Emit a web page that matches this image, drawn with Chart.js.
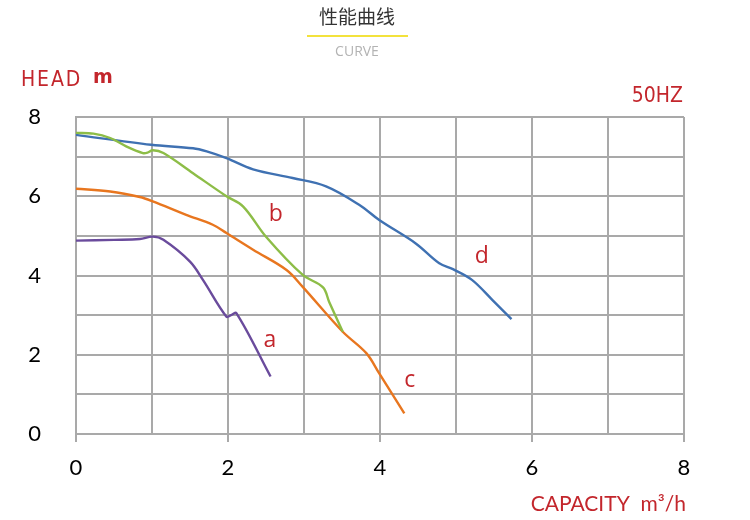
<!DOCTYPE html>
<html>
<head>
<meta charset="utf-8">
<script src="https://cdn.jsdelivr.net/npm/chart.js@4.4.1/dist/chart.umd.min.js"></script>
<style>
  html, body { margin: 0; padding: 0; background: #fff; }
  #wrap { width: 750px; height: 520px; position: relative; }
</style>
</head>
<body>
<div id="wrap"><canvas id="curve"></canvas></div>
<script>
// pump curves, capacity m3/h vs head m
var curveA_x = [0, 0.5, 0.84, 1.01, 1.15, 1.5, 1.67, 1.98, 2.04, 2.11, 2.56];
var curveA_y = [4.88, 4.9, 4.92, 4.98, 4.9, 4.35, 3.89, 2.96, 3.0, 3.05, 1.45];

var curveB_x = [0, 0.23, 0.45, 0.66, 0.88, 0.94, 1.01, 1.15, 1.54, 1.98, 2.2, 2.5, 2.98, 3.25, 3.33, 3.51];
var curveB_y = [7.6, 7.58, 7.47, 7.26, 7.09, 7.1, 7.16, 7.09, 6.58, 6.0, 5.74, 4.98, 4.02, 3.7, 3.34, 2.58];

var curveC_x = [0, 0.45, 0.84, 1.01, 1.45, 1.8, 1.98, 2.33, 2.77, 2.98, 3.51, 3.82, 3.99, 4.32];
var curveC_y = [6.19, 6.12, 5.98, 5.87, 5.53, 5.28, 5.07, 4.65, 4.14, 3.72, 2.58, 2.04, 1.53, 0.52];

var curveD_x = [0, 0.99, 1.54, 1.72, 1.98, 2.33, 2.85, 3.29, 3.73, 3.99, 4.47, 4.78, 4.96, 5.21, 5.48, 5.73];
var curveD_y = [7.55, 7.3, 7.21, 7.13, 6.96, 6.68, 6.46, 6.25, 5.78, 5.4, 4.81, 4.31, 4.16, 3.89, 3.38, 2.9];

var curveNames = ['a', 'b', 'c', 'd'];
var curveColors = ['#6a4b9c', '#8dbd47', '#e8761f', '#3f71b2'];
// where the letter of each curve sits, in chart units
var nameX = [2.55, 2.63, 4.39, 5.34];
var nameY = [2.37, 5.53, 1.36, 4.47];

var xTicks = [0, 2, 4, 6, 8];
var yTicks = [0, 2, 4, 6, 8];

var RED = '#c3262c';
var GRID = '#a9a9a9';

function pairs(xs, ys) {
  var out = [];
  for (var i = 0; i < xs.length; i++) {
    out.push({ x: xs[i], y: ys[i] });
  }
  return out;
}

var allX = [curveA_x, curveB_x, curveC_x, curveD_x];
var allY = [curveA_y, curveB_y, curveC_y, curveD_y];
var datasets = [];
for (var i = 0; i < curveNames.length; i++) {
  datasets.push({
    label: curveNames[i],
    data: pairs(allX[i], allY[i]),
    borderColor: curveColors[i],
    borderWidth: 2.4,
    pointRadius: 0,
    tension: 0.35,
    fill: false
  });
}

// texts around the plot + curve letters
var textPlugin = {
  id: 'curveTexts',
  afterDraw: function(chart) {
    var ctx = chart.ctx;
    var xs = chart.scales.x, ys = chart.scales.y;
    ctx.save();

    // heading
    ctx.textAlign = 'center';
    ctx.textBaseline = 'middle';
    ctx.fillStyle = '#333';
    ctx.font = '19px "Noto Sans CJK SC", sans-serif';
    ctx.fillText('性能曲线', 357, 17);
    ctx.fillStyle = '#f3e23c';
    ctx.fillRect(307, 35, 101, 2);
    ctx.fillStyle = '#b3b3b3';
    ctx.font = '14px "Open Sans", sans-serif';
    ctx.fillText('CURVE', 357, 52);

    // axis names
    ctx.fillStyle = RED;
    ctx.textAlign = 'left';
    ctx.font = '21px "DejaVu Sans Condensed", "Liberation Sans Narrow", sans-serif';
    ctx.fillText('H E A D'.replace(/ /g, '\u200A'), 21, 81);
    ctx.font = 'bold 19px "DejaVu Sans", sans-serif';
    ctx.fillText('m', 93, 78);
    ctx.textAlign = 'right';
    ctx.font = '21px "DejaVu Sans Condensed", "Liberation Sans Narrow", sans-serif';
    ctx.fillText('50HZ', 683, 97);
    ctx.font = '21px Lato, sans-serif';
    ctx.fillText('CAPACITY  m³/h', 686, 504);

    // curve letters
    ctx.textAlign = 'center';
    ctx.font = '23px "Open Sans", sans-serif';
    for (var k = 0; k < curveNames.length; k++) {
      ctx.fillText(curveNames[k], xs.getPixelForValue(nameX[k]), ys.getPixelForValue(nameY[k]));
    }
    ctx.restore();
  }
};

var ctx = document.getElementById('curve').getContext('2d');
var chart = new Chart(ctx, {
  type: 'line',
  data: { datasets: datasets },
  plugins: [textPlugin],
  options: {
    responsive: true,
    maintainAspectRatio: false,
    animation: false,
    layout: { padding: { left: 0, top: 117, right: 66, bottom: 0 } },
    plugins: {
      legend: { display: false },
      tooltip: { enabled: false }
    },
    scales: {
      x: {
        type: 'linear',
        min: 0,
        max: 8,
        afterFit: function(scale) { scale.height = 86; },
        ticks: {
          stepSize: 1,
          padding: 13,
          color: '#000',
          font: { family: 'Lato, sans-serif', size: 22 },
          maxRotation: 0,
          autoSkip: false,
          callback: function(v) { return xTicks.indexOf(v) >= 0 ? String(v) : ''; }
        },
        grid: {
          color: GRID,
          lineWidth: 2,
          tickLength: 8,
          tickColor: function(c) {
            return (c.tick && xTicks.indexOf(c.tick.value) >= 0) ? GRID : 'rgba(0,0,0,0)';
          }
        },
        border: { color: GRID, width: 2 }
      },
      y: {
        type: 'linear',
        min: 0,
        max: 8,
        afterFit: function(scale) { scale.width = 76; },
        ticks: {
          stepSize: 1,
          padding: 35,
          color: '#000',
          font: { family: 'Lato, sans-serif', size: 22 },
          autoSkip: false,
          callback: function(v) { return yTicks.indexOf(v) >= 0 ? String(v) : ''; }
        },
        grid: { color: GRID, lineWidth: 2, drawTicks: false },
        border: { color: GRID, width: 2 }
      }
    }
  }
});
</script>
</body>
</html>
